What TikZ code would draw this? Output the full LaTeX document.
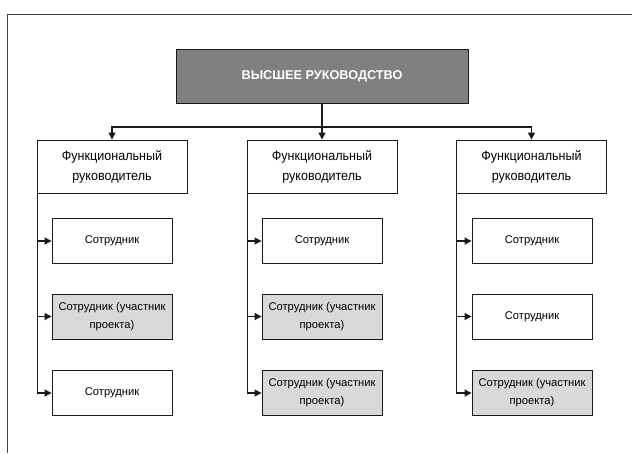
\documentclass[tikz,border=0pt]{standalone}
\usepackage{fontspec}
\setmainfont{Liberation Sans}
\newfontfamily\narrowfont{Liberation Sans}[FakeStretch=0.93]
\usetikzlibrary{arrows.meta,shadows}
\definecolor{topfill}{HTML}{808080}
\definecolor{projfill}{HTML}{D9D9D9}
\definecolor{linec}{HTML}{1A1A1A}
\tikzset{
  box/.style={draw=linec, line width=0.9pt, rectangle, align=center, inner sep=0pt,
    drop shadow={shadow xshift=0.8pt, shadow yshift=-0.8pt, fill=black!45, opacity=0.8}},
  topbox/.style={box, fill=topfill, minimum width=292pt, minimum height=54pt,
    text=white, font=\fontsize{12.7}{15}\selectfont\bfseries},
  funcbox/.style={box, fill=white, minimum width=150pt, minimum height=53pt,
    font=\narrowfont\fontsize{13.5}{20}\selectfont},
  empbox/.style={box, fill=white, minimum width=120pt, minimum height=45pt,
    font=\fontsize{11.2}{18}\selectfont},
  projbox/.style={empbox, fill=projfill},
  arr/.style={draw=linec, line width=1.1pt, -{Triangle[length=7pt,width=7pt]}},
  frameline/.style={draw=black!75, line width=0.9pt}
}
\begin{document}
\begin{tikzpicture}[x=1pt,y=-1pt]
\useasboundingbox (0,0) rectangle (632,453);
\fill[white] (0,0) rectangle (632,453);
% frame
\coordinate (fr0) at (7,14);
\coordinate (fr1) at (632,14);
\coordinate (fr2) at (7,453);
\draw[frameline] (fr1) -- (fr0) -- (fr2);
% top
\node[topbox] (top) at (322,76) {ВЫСШЕЕ РУКОВОДСТВО};
% functional managers
\node[funcbox] (f1) at (112,166.5) {Функциональный\\руководитель};
\node[funcbox] (f2) at (322,166.5) {Функциональный\\руководитель};
\node[funcbox] (f3) at (531.5,166.5) {Функциональный\\руководитель};
% employees column 1
\node[empbox]  (e11) at (112,241) {Сотрудник};
\node[projbox] (e12) at (112,316.5) {Сотрудник (участник\\проекта)};
\node[empbox]  (e13) at (112,393) {Сотрудник};
% column 2
\node[empbox]  (e21) at (322,241) {Сотрудник};
\node[projbox] (e22) at (322,316.5) {Сотрудник (участник\\проекта)};
\node[projbox] (e23) at (322,393) {Сотрудник (участник\\проекта)};
% column 3
\node[empbox]  (e31) at (532,241) {Сотрудник};
\node[empbox]  (e32) at (532,316.5) {Сотрудник};
\node[projbox] (e33) at (532,393) {Сотрудник (участник\\проекта)};
% top connectors
\coordinate (bus) at (322,127);
\draw[arr] (top.south) -- (f2.north);
\draw[arr] (bus) -| (f1.north);
\draw[arr] (bus) -| (f3.north);
% trunks
\foreach \c in {1,2,3}{
  \draw[arr] ([xshift=0.5pt]f\c.south west) |- (e\c3.west);
  \draw[arr] ([xshift=0.5pt]f\c.south west |- e\c1.west) -- (e\c1.west);
  \draw[arr] ([xshift=0.5pt]f\c.south west |- e\c2.west) -- (e\c2.west);
}
\end{tikzpicture}
\end{document}
